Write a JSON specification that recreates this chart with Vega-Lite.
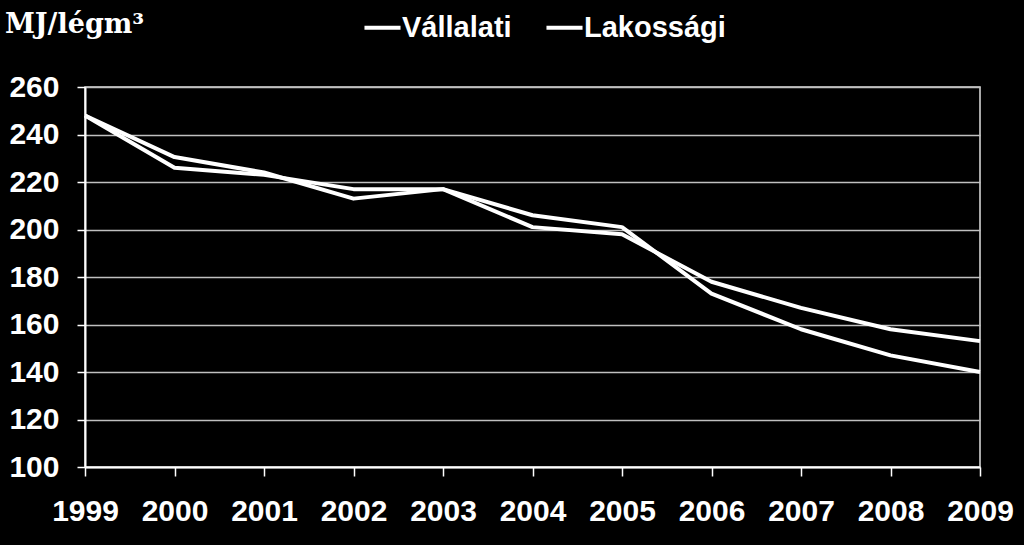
{
  "$schema": "https://vega.github.io/schema/vega-lite/v6.json",
  "width": 895,
  "height": 380,
  "autosize": {"type": "none"},
  "padding": {"left": 85, "top": 87, "right": 44, "bottom": 78},
  "background": "black",
  "title": {"text": "MJ/légm³", "anchor": "start", "font": "DejaVu Serif", "fontSize": 27, "fontWeight": "bold", "color": "white", "dx": -4, "offset": 0, "dy": 53, "baseline": "alphabetic"},
  "config": {
    "view": {"stroke": "#e0e0e0", "strokeWidth": 1.5},
    "axis": {"labelFont": "Liberation Sans", "labelFontSize": 30, "labelFontWeight": "bold", "labelColor": "white", "domainColor": "white", "tickColor": "white", "domainWidth": 2, "tickWidth": 1.5, "title": null}
  },
  "data": {"values": [
    {"year": 1999, "series": "Vállalati", "value": 248},
    {"year": 2000, "series": "Vállalati", "value": 230.5},
    {"year": 2001, "series": "Vállalati", "value": 224},
    {"year": 2002, "series": "Vállalati", "value": 213},
    {"year": 2003, "series": "Vállalati", "value": 217},
    {"year": 2004, "series": "Vállalati", "value": 206},
    {"year": 2005, "series": "Vállalati", "value": 201},
    {"year": 2006, "series": "Vállalati", "value": 173},
    {"year": 2007, "series": "Vállalati", "value": 158},
    {"year": 2008, "series": "Vállalati", "value": 147},
    {"year": 2009, "series": "Vállalati", "value": 140},
    {"year": 1999, "series": "Lakossági", "value": 248},
    {"year": 2000, "series": "Lakossági", "value": 226},
    {"year": 2001, "series": "Lakossági", "value": 223},
    {"year": 2002, "series": "Lakossági", "value": 217},
    {"year": 2003, "series": "Lakossági", "value": 217},
    {"year": 2004, "series": "Lakossági", "value": 201},
    {"year": 2005, "series": "Lakossági", "value": 198},
    {"year": 2006, "series": "Lakossági", "value": 178},
    {"year": 2007, "series": "Lakossági", "value": 167},
    {"year": 2008, "series": "Lakossági", "value": 158},
    {"year": 2009, "series": "Lakossági", "value": 153}
  ]},
  "mark": {"type": "line", "strokeWidth": 4, "strokeJoin": "round"},
  "encoding": {
    "x": {"field": "year", "type": "quantitative", "scale": {"domain": [1999, 2009], "nice": false, "zero": false},
      "axis": {"values": [1999,2000,2001,2002,2003,2004,2005,2006,2007,2008,2009], "format": "d", "grid": false, "tickSize": 9, "labelPadding": 20, "labelFlush": false, "labelOverlap": false}},
    "y": {"field": "value", "type": "quantitative", "scale": {"domain": [100, 260], "nice": false, "zero": false},
      "axis": {"values": [100,120,140,160,180,200,220,240,260], "grid": true, "gridColor": "#c0c0c0", "gridWidth": 1.5, "tickSize": 8, "labelPadding": 18, "labelFlush": false}},
    "color": {"field": "series", "type": "nominal", "sort": ["Vállalati", "Lakossági"],
      "scale": {"range": ["white", "white"]},
      "legend": {"title": null, "orient": "none", "legendX": 277, "legendY": -80, "direction": "horizontal",
        "symbolType": "stroke", "symbolSize": 1300, "symbolStrokeWidth": 4, "labelFont": "Liberation Sans", "labelFontSize": 29, "labelFontWeight": "bold", "labelColor": "white", "columnPadding": 26, "labelOffset": -1}}
  }
}
